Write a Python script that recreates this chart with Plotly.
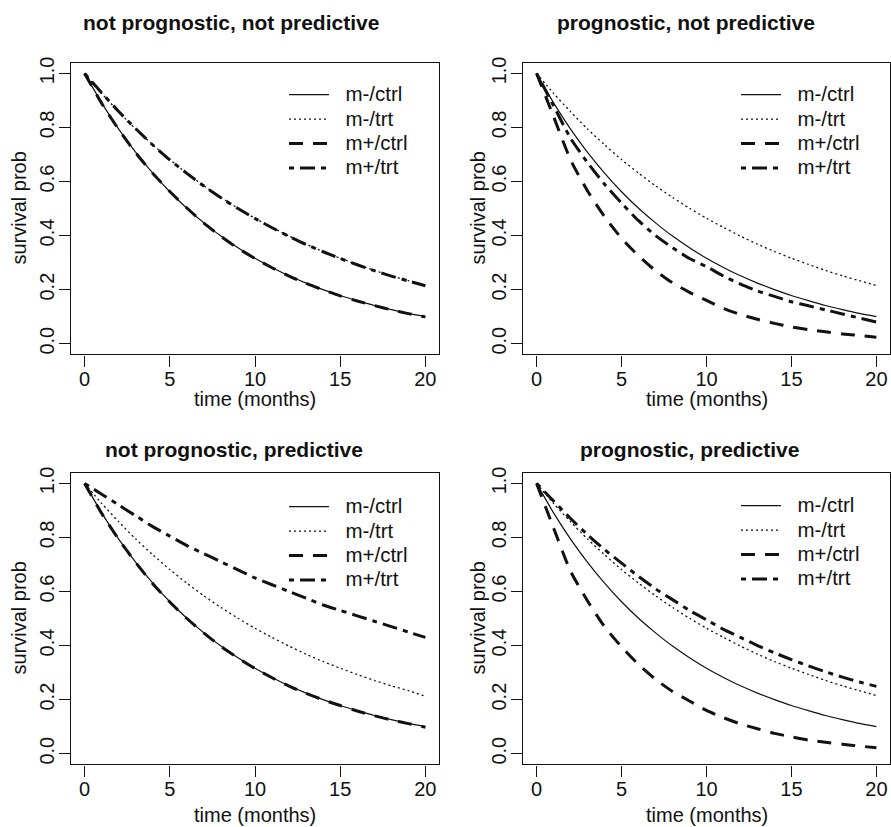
import plotly.graph_objects as go

W, H = 891, 827

# ---------------- data ----------------
months = [0, 1, 2, 3, 4, 5, 6, 7, 8, 9, 10, 11, 12, 13, 14, 15, 16, 17, 18, 19, 20]
x_ticks = [0, 5, 10, 15, 20]
y_ticks = [0.0, 0.2, 0.4, 0.6, 0.8, 1.0]
series_names = ["m-/ctrl", "m-/trt", "m+/ctrl", "m+/trt"]
panel_titles = ["not prognostic, not predictive", "prognostic, not predictive",
                "not prognostic, predictive", "prognostic, predictive"]

# panel 1: not prognostic, not predictive
p1_mneg_ctrl = [1.000, 0.891, 0.794, 0.708, 0.631, 0.562, 0.501, 0.447, 0.398, 0.355, 0.316,
                0.282, 0.251, 0.224, 0.200, 0.178, 0.159, 0.141, 0.126, 0.112, 0.100]
p1_mneg_trt = [1.000, 0.926, 0.858, 0.794, 0.736, 0.681, 0.631, 0.584, 0.541, 0.501, 0.464,
               0.430, 0.398, 0.368, 0.341, 0.316, 0.293, 0.271, 0.251, 0.233, 0.215]
p1_mpos_ctrl = [1.000, 0.889, 0.792, 0.706, 0.630, 0.563, 0.502, 0.446, 0.397, 0.353, 0.315,
                0.281, 0.250, 0.223, 0.199, 0.177, 0.158, 0.141, 0.125, 0.111, 0.099]
p1_mpos_trt = [1.000, 0.928, 0.859, 0.795, 0.735, 0.680, 0.630, 0.583, 0.540, 0.500, 0.463,
               0.429, 0.397, 0.367, 0.340, 0.315, 0.292, 0.270, 0.250, 0.232, 0.214]

# panel 2: prognostic, not predictive
p2_mneg_ctrl = [1.000, 0.891, 0.794, 0.708, 0.631, 0.562, 0.501, 0.447, 0.398, 0.355, 0.316,
                0.282, 0.251, 0.224, 0.200, 0.178, 0.159, 0.141, 0.126, 0.112, 0.100]
p2_mneg_trt = [1.000, 0.926, 0.858, 0.794, 0.736, 0.681, 0.631, 0.584, 0.541, 0.501, 0.464,
               0.430, 0.398, 0.368, 0.341, 0.316, 0.293, 0.271, 0.251, 0.233, 0.215]
p2_mpos_ctrl = [1.000, 0.840, 0.680, 0.565, 0.470, 0.390, 0.325, 0.270, 0.225, 0.190, 0.160,
                0.130, 0.108, 0.090, 0.075, 0.062, 0.052, 0.044, 0.036, 0.030, 0.024]
p2_mpos_trt = [1.000, 0.880, 0.760, 0.670, 0.590, 0.520, 0.455, 0.400, 0.355, 0.315, 0.285,
               0.250, 0.220, 0.195, 0.175, 0.155, 0.140, 0.125, 0.110, 0.095, 0.080]

# panel 3: not prognostic, predictive
p3_mneg_ctrl = [1.000, 0.891, 0.794, 0.708, 0.631, 0.562, 0.501, 0.447, 0.398, 0.355, 0.316,
                0.282, 0.251, 0.224, 0.200, 0.178, 0.159, 0.141, 0.126, 0.112, 0.100]
p3_mneg_trt = [1.000, 0.926, 0.858, 0.794, 0.736, 0.681, 0.631, 0.584, 0.541, 0.501, 0.464,
               0.430, 0.398, 0.368, 0.341, 0.316, 0.293, 0.271, 0.251, 0.233, 0.212]
p3_mpos_ctrl = [1.000, 0.889, 0.793, 0.707, 0.629, 0.561, 0.500, 0.446, 0.397, 0.354, 0.315,
                0.281, 0.250, 0.223, 0.199, 0.178, 0.158, 0.140, 0.125, 0.111, 0.098]
p3_mpos_trt = [1.000, 0.960, 0.920, 0.880, 0.840, 0.805, 0.770, 0.740, 0.710, 0.680, 0.650,
               0.625, 0.600, 0.575, 0.550, 0.530, 0.510, 0.490, 0.470, 0.450, 0.430]

# panel 4: prognostic, predictive
p4_mneg_ctrl = [1.000, 0.891, 0.794, 0.708, 0.631, 0.562, 0.501, 0.447, 0.398, 0.355, 0.316,
                0.282, 0.251, 0.224, 0.200, 0.178, 0.159, 0.141, 0.126, 0.112, 0.100]
p4_mneg_trt = [1.000, 0.926, 0.858, 0.794, 0.736, 0.681, 0.631, 0.584, 0.541, 0.501, 0.464,
               0.430, 0.398, 0.368, 0.341, 0.316, 0.293, 0.271, 0.251, 0.233, 0.215]
p4_mpos_ctrl = [1.000, 0.835, 0.675, 0.565, 0.470, 0.395, 0.330, 0.275, 0.230, 0.195, 0.160,
                0.133, 0.110, 0.092, 0.075, 0.062, 0.050, 0.042, 0.035, 0.028, 0.022]
p4_mpos_trt = [1.000, 0.935, 0.870, 0.810, 0.755, 0.705, 0.656, 0.610, 0.570, 0.530, 0.495,
               0.460, 0.430, 0.400, 0.373, 0.348, 0.325, 0.303, 0.283, 0.265, 0.249]

panels = [
    [p1_mneg_ctrl, p1_mneg_trt, p1_mpos_ctrl, p1_mpos_trt],
    [p2_mneg_ctrl, p2_mneg_trt, p2_mpos_ctrl, p2_mpos_trt],
    [p3_mneg_ctrl, p3_mneg_trt, p3_mpos_ctrl, p3_mpos_trt],
    [p4_mneg_ctrl, p4_mneg_trt, p4_mpos_ctrl, p4_mpos_trt],
]

# ---------------- styling ----------------
FONT = "Liberation Sans, Arial, Helvetica, sans-serif"
INK = "#111111"
line_styles = [
    dict(width=1.2, dash="solid"),
    dict(width=1.3, dash="2px,3px"),
    dict(width=3.0, dash="14px,10px"),
    dict(width=3.0, dash="5px,6px,15px,6px"),
]

# plot boxes in pixels (left, right, top, bottom)
boxes = [(71, 439, 57, 351), (523, 890, 57, 351), (71, 439, 470, 764), (523, 890, 470, 764)]
title_pos = [(231, 17), (686, 17), (234, 447), (689, 447)]
ylab_x = [19, 478, 19, 478]
xlab_y = [396, 396, 815, 815]
legend_pos = [(284, 72), (736, 72), (284, 487), (736, 486)]


def px_x(v):
    return v / W


def px_y(v):
    return 1 - v / H


fig = go.Figure()
annotations = []
layout_axes = {}

for i, series in enumerate(panels):
    k = "" if i == 0 else str(i + 1)
    leg = "legend" if i == 0 else f"legend{i + 1}"
    for name, vals, st in zip(series_names, series, line_styles):
        fig.add_trace(go.Scatter(
            x=months, y=vals,
            name=f'<span style="font-size:20.5px">\u00a0\u00a0{name}</span>', mode="lines",
            line=dict(color=INK, width=st["width"], dash=st["dash"], shape="spline", smoothing=0.6),
            xaxis="x" + k, yaxis="y" + k, legend=leg, showlegend=True,
        ))
    l, r, t, b = boxes[i]
    common = dict(showline=True, mirror=True, linecolor=INK, linewidth=1.2,
                  ticks="outside", ticklen=11, tickwidth=1, tickcolor=INK,
                  showgrid=False, zeroline=False, fixedrange=True,
                  tickfont=dict(family=FONT, size=20, color=INK))
    layout_axes["xaxis" + k] = dict(
        domain=[px_x(l), px_x(r)], range=[-0.8, 20.8], tickvals=x_ticks,
        anchor="y" + k, ticklabelstandoff=-5, **common)
    layout_axes["yaxis" + k] = dict(
        domain=[px_y(b), px_y(t)], range=[-0.04, 1.04], tickvals=y_ticks,
        tickformat=".1f", tickangle=-90, anchor="x" + k, ticklabelstandoff=-3, **common)

    tx, ty = title_pos[i]
    annotations.append(dict(text=f"<b>{panel_titles[i]}</b>", x=px_x(tx), y=px_y(ty),
                            xref="paper", yref="paper", showarrow=False,
                            xanchor="center", yanchor="middle",
                            font=dict(family=FONT, size=21, color=INK)))
    annotations.append(dict(text="survival prob", x=px_x(ylab_x[i]), y=px_y((t + b) / 2),
                            xref="paper", yref="paper", showarrow=False, textangle=-90,
                            xanchor="center", yanchor="middle",
                            font=dict(family=FONT, size=20, color=INK)))
    annotations.append(dict(text="time (months)", x=px_x((l + r) / 2), y=px_y(xlab_y[i]),
                            xref="paper", yref="paper", showarrow=False,
                            xanchor="center", yanchor="middle",
                            font=dict(family=FONT, size=20, color=INK)))
    lx, ly = legend_pos[i]
    layout_axes[leg] = dict(x=px_x(lx), y=px_y(ly), xanchor="left", yanchor="top",
                            bgcolor="rgba(0,0,0,0)", borderwidth=0, itemwidth=40,
                            font=dict(family=FONT, size=16.5, color=INK), tracegroupgap=0,
                            itemclick=False, itemdoubleclick=False)

fig.update_layout(
    width=W, height=H, autosize=False,
    margin=dict(l=0, r=0, t=0, b=0, pad=0),
    paper_bgcolor="white", plot_bgcolor="white",
    annotations=annotations,
    **layout_axes,
)

fig.write_html("out.html", config={"displayModeBar": False})
